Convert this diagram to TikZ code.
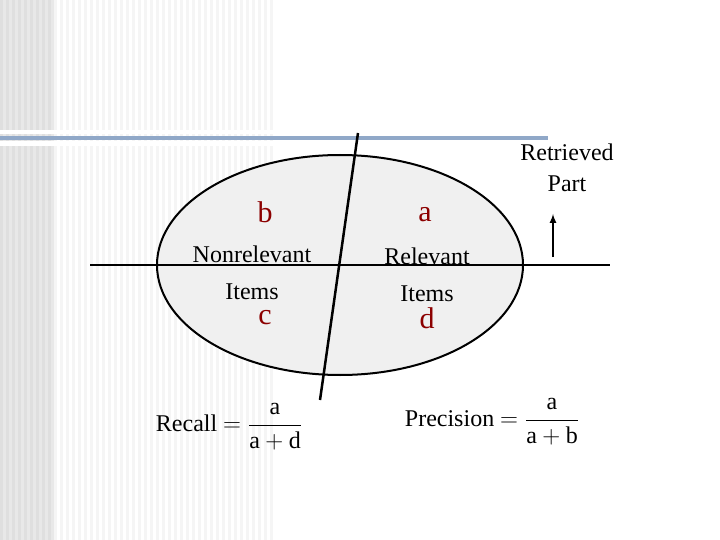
\documentclass[tikz,border=0pt]{standalone}
\usepackage{fontspec}
\setmainfont{Liberation Serif}
\usetikzlibrary{shapes.geometric}
\begin{document}
\begin{tikzpicture}[x=1pt,y=-1pt,
  lbl/.style={font=\fontsize{24}{26}\selectfont, inner sep=0pt},
  let/.style={font=\fontsize{30}{32}\selectfont, text=red!55!black, inner sep=0pt},
  frm/.style={font=\fontsize{24}{26}\selectfont, inner sep=0pt}]
\useasboundingbox (0,0) rectangle (720,540);
\fill[white] (0,0) rectangle (720,540);
\foreach \i in {0,...,8} {\fill[gray!25] (\i*6,0) rectangle (\i*6+3,540); \fill[gray!18] (\i*6+3,0) rectangle (\i*6+6,540);}
\foreach \i in {9,...,45} {\fill[gray!8] (\i*6,0) rectangle (\i*6+3,540);}
\fill[white] (0,130) rectangle (548,134);
\fill[white] (0,141) rectangle (548,146);
\draw[line width=4pt, color={rgb,255:red,144;green,168;blue,200}] (0,138) -- (548,138);
\node[draw, line width=2pt, fill=gray!12, ellipse, minimum width=366, minimum height=220, inner sep=0pt] (el) at (340,265) {};
\coordinate (h1) at (90,265); \coordinate (h2) at (610,265);
\draw[line width=2.5pt] (h1) -- (h2);
\coordinate (s1) at (358,133); \coordinate (s2) at (320,400);
\draw[line width=2.5pt] (s1) -- (s2);
\coordinate (a1) at (553,257); \coordinate (a2) at (553,214);
\draw[line width=2pt,-latex] (a1) -- (a2);
\node[let] (b) at (265,212) {b};
\node[let] (a) at (425,215) {a};
\node[let] (c) at (265,318) {c};
\node[let] (d) at (427,318) {d};
\node[lbl] (nr) at (252,254) {Nonrelevant};
\node[lbl] (ni) at (252,292) {Items};
\node[lbl] (rl) at (427,256) {Relevant};
\node[lbl] (ri) at (427,294) {Items};
\node[lbl] (rt) at (567,152) {Retrieved};
\node[lbl] (rp) at (567,184) {Part};
\node[frm] (rec) at (229,427) {Recall $\displaystyle=\frac{\mbox{a}}{\mbox{a}+\mbox{d}}$};
\node[frm] (pre) at (492,422) {Precision $\displaystyle=\frac{\mbox{a}}{\mbox{a}+\mbox{b}}$};
\end{tikzpicture}
\end{document}
